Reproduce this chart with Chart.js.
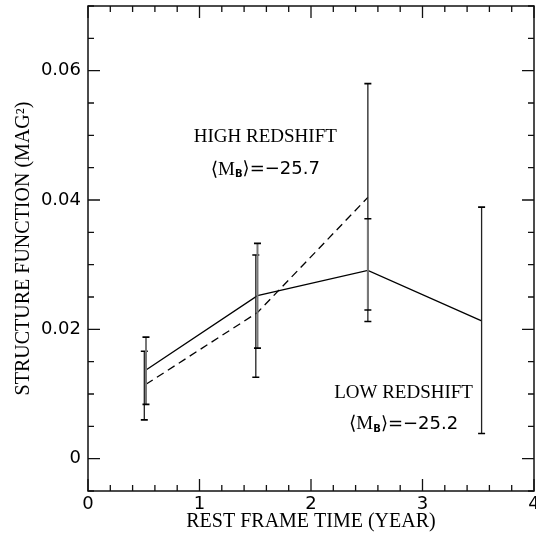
<!DOCTYPE html>
<html>
<head>
<meta charset="utf-8">
<script src="https://cdn.jsdelivr.net/npm/chart.js@4/dist/chart.umd.min.js"></script>
<style>
  html, body { margin: 0; padding: 0; background: #fff; }
  #wrap { width: 536px; height: 538px; }
</style>
</head>
<body>
<div id="wrap"><canvas id="sf-chart"></canvas></div>
<script>
// low redshift (solid line + grey error bars)
const lowX = [0.52, 1.52, 2.51, 3.53];
const lowY = [0.0137, 0.0252, 0.0291, 0.0213];
const lowErrLo = [0.0084, 0.0171, 0.0230, 0.0039];
const lowErrHi = [0.0188, 0.0333, 0.0371, 0.0389];

// high redshift (dashed line + dark error bars)
const highX = [0.52, 1.52, 2.51];
const highY = [0.0115, 0.0226, 0.0404];
const highErrX = [0.505, 1.505, 2.51];
const highErrLo = [0.0060, 0.0126, 0.0212];
const highErrHi = [0.0166, 0.0315, 0.0580];

const xTicks = [0, 1, 2, 3, 4];
const yTicks = [0, 0.02, 0.04, 0.06];

const serif = "'Liberation Serif', 'DejaVu Serif', serif";
const sans = "'DejaVu Sans', sans-serif";

const toPoints = (xs, ys) => xs.map((x, i) => ({ x: x, y: ys[i] }));

// error bars, frame, inward ticks and the text labels
const framePlugin = {
  id: "frame",
  afterDatasetsDraw(chart) {
    const { ctx, chartArea: a, scales } = chart;
    const xs = scales.x, ys = scales.y;

    const bar = (x, lo, hi, color, width) => {
      const px = xs.getPixelForValue(x);
      const p1 = ys.getPixelForValue(lo), p2 = ys.getPixelForValue(hi);
      ctx.strokeStyle = color;
      ctx.lineWidth = width;
      ctx.beginPath();
      ctx.moveTo(px, p1);
      ctx.lineTo(px, p2);
      ctx.stroke();
      ctx.strokeStyle = "#000";
      ctx.lineWidth = 1.6;
      ctx.beginPath();
      ctx.moveTo(px - 3.5, p1); ctx.lineTo(px + 3.5, p1);
      ctx.moveTo(px - 3.5, p2); ctx.lineTo(px + 3.5, p2);
      ctx.stroke();
    };

    ctx.save();
    highErrX.forEach((x, i) => bar(x, highErrLo[i], highErrHi[i], "#222", 1.3));
    lowX.forEach((x, i) => bar(x, lowErrLo[i], lowErrHi[i], i < 3 ? "#777" : "#222", i < 3 ? 2 : 1.3));

    // frame
    ctx.strokeStyle = "#111";
    ctx.lineWidth = 1.5;
    ctx.strokeRect(a.left, a.top, a.right - a.left, a.bottom - a.top);

    // inward ticks on all four sides
    ctx.lineWidth = 1.3;
    ctx.beginPath();
    for (let i = 0; i <= 20; i++) {
      const px = xs.getPixelForValue(i * 0.2);
      const len = i % 5 === 0 ? 12 : 6;
      ctx.moveTo(px, a.bottom); ctx.lineTo(px, a.bottom - len);
      ctx.moveTo(px, a.top); ctx.lineTo(px, a.top + len);
    }
    for (let i = 0; i <= 15; i++) {
      const py = ys.getPixelForValue(-0.005 + i * 0.005);
      const len = (i - 1) % 4 === 0 ? 12 : 6;
      ctx.moveTo(a.left, py); ctx.lineTo(a.left + len, py);
      ctx.moveTo(a.right, py); ctx.lineTo(a.right - len, py);
    }
    ctx.stroke();

    // labels
    ctx.fillStyle = "#000";
    ctx.textBaseline = "middle";
    const label = (text, x, y) => {
      ctx.font = "19px " + serif;
      ctx.textAlign = "center";
      ctx.fillText(text, xs.getPixelForValue(x), ys.getPixelForValue(y));
    };
    const mag = (value, x, y) => {
      const parts = [
        { t: "\u27E8M", f: "19px " + serif, dy: 0 },
        { t: "B", f: "bold 10px " + sans, dy: 5 },
        { t: "\u27E9=\u2212" + value, f: "18px " + sans, dy: 0 },
      ];
      let total = 0;
      parts.forEach((p) => { ctx.font = p.f; p.w = ctx.measureText(p.t).width; total += p.w; });
      let px = xs.getPixelForValue(x) - total / 2;
      const py = ys.getPixelForValue(y);
      ctx.textAlign = "left";
      parts.forEach((p) => { ctx.font = p.f; ctx.fillText(p.t, px, py + p.dy); px += p.w; });
    };
    label("HIGH REDSHIFT", 1.59, 0.0498);
    mag("25.7", 1.59, 0.0447);
    label("LOW REDSHIFT", 2.83, 0.0101);
    mag("25.2", 2.83, 0.0053);
    ctx.restore();
  },
};

new Chart(document.getElementById("sf-chart"), {
  type: "scatter",
  data: {
    datasets: [
      {
        label: "low redshift",
        data: toPoints(lowX, lowY),
        showLine: true,
        borderColor: "#000",
        borderWidth: 1.3,
        pointRadius: 0,
      },
      {
        label: "high redshift",
        data: toPoints(highX, highY),
        showLine: true,
        borderColor: "#000",
        borderWidth: 1.3,
        borderDash: [8, 5],
        pointRadius: 0,
      },
    ],
  },
  options: {
    responsive: true,
    maintainAspectRatio: false,
    animation: false,
    layout: { padding: { top: 6, right: 2, left: 0, bottom: 0 } },
    plugins: {
      legend: { display: false },
      tooltip: { enabled: false },
    },
    scales: {
      x: {
        type: "linear",
        min: 0,
        max: 4,
        afterBuildTicks: (s) => { s.ticks = xTicks.map((v) => ({ value: v })); },
        afterFit: (s) => { s.height = 47; s.paddingLeft = 0; s.paddingRight = 0; },
        grid: { display: false, drawTicks: false },
        border: { display: false },
        ticks: {
          color: "#000",
          font: { family: sans, size: 18 },
          padding: 3,
          maxRotation: 0,
          autoSkip: false,
        },
        title: {
          display: true,
          text: "REST FRAME TIME (YEAR)",
          color: "#000",
          font: { family: serif, size: 20 },
          padding: { top: 0, bottom: 4 },
        },
      },
      y: {
        type: "linear",
        min: -0.005,
        max: 0.07,
        afterBuildTicks: (s) => { s.ticks = yTicks.map((v) => ({ value: v })); },
        afterFit: (s) => { s.width = 88; s.paddingTop = 0; s.paddingBottom = 0; },
        grid: { display: false, drawTicks: false },
        border: { display: false },
        ticks: {
          color: "#000",
          font: { family: sans, size: 18 },
          padding: 7,
          autoSkip: false,
          callback: (v) => (v === 0 ? "0" : v.toFixed(2)),
        },
        title: {
          display: true,
          text: "STRUCTURE FUNCTION (MAG\u00B2)",
          color: "#000",
          font: { family: serif, size: 20 },
          padding: { top: 12, bottom: 0 },
        },
      },
    },
  },
  plugins: [framePlugin],
});
</script>
</body>
</html>
